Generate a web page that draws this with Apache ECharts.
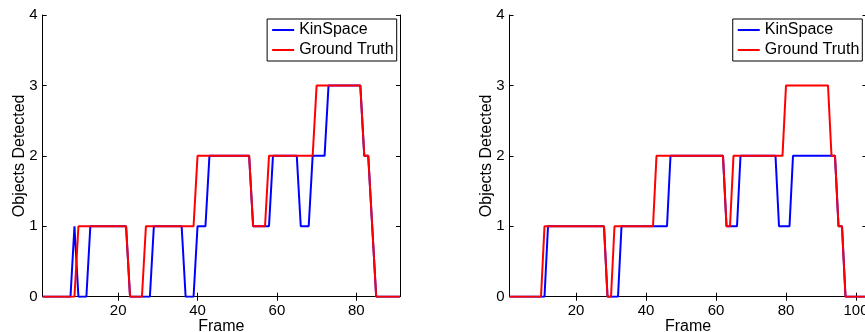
<!DOCTYPE html>
<html><head><meta charset="utf-8">
<script src="https://cdn.jsdelivr.net/npm/echarts@6/dist/echarts.min.js"></script>
<style>html,body{margin:0;padding:0;background:#fff}#c{width:865px;height:332px}</style>
</head><body><div id="c"></div>
<script>
const seriesNames = ['KinSpace', 'Ground Truth'];
const yTicks = [0, 1, 2, 3, 4];
const leftXTicks = [20, 40, 60, 80];
const rightXTicks = [20, 40, 60, 80, 100];
const leftFrameRange = [1, 91];
const rightFrameRange = [1, 103];

// Left plot, frames 1..91
const leftKinSpace = [
  0,0,0,0,0,0,0,0,1,0, 0,0,1,1,1,1,1,1,1,1, 1,1,0,0,0,0,0,0,1,1,
  1,1,1,1,1,1,0,0,0,1, 1,1,2,2,2,2,2,2,2,2, 2,2,2,1,1,1,1,1,2,2,
  2,2,2,2,2,1,1,1,2,2, 2,2,3,3,3,3,3,3,3,3, 3,2,2,1,0,0,0,0,0,0,
  0
];
const leftGroundTruth = [
  0,0,0,0,0,0,0,0,0,1, 1,1,1,1,1,1,1,1,1,1, 1,1,0,0,0,0,1,1,1,1,
  1,1,1,1,1,1,1,1,1,2, 2,2,2,2,2,2,2,2,2,2, 2,2,2,1,1,1,1,2,2,2,
  2,2,2,2,2,2,2,2,2,3, 3,3,3,3,3,3,3,3,3,3, 3,2,2,1,0,0,0,0,0,0,
  0
];
// Right plot, frames 1..103
const rightKinSpace = [
  0,0,0,0,0,0,0,0,0,0, 0,1,1,1,1,1,1,1,1,1, 1,1,1,1,1,1,1,1,0,0,
  0,0,1,1,1,1,1,1,1,1, 1,1,1,1,1,1,2,2,2,2, 2,2,2,2,2,2,2,2,2,2,
  2,2,1,1,1,1,2,2,2,2, 2,2,2,2,2,2,2,1,1,1, 1,2,2,2,2,2,2,2,2,2,
  2,2,2,2,1,1,0,0,0,0, 0,0,0
];
const rightGroundTruth = [
  0,0,0,0,0,0,0,0,0,0, 1,1,1,1,1,1,1,1,1,1, 1,1,1,1,1,1,1,1,0,0,
  1,1,1,1,1,1,1,1,1,1, 1,1,2,2,2,2,2,2,2,2, 2,2,2,2,2,2,2,2,2,2,
  2,2,1,1,2,2,2,2,2,2, 2,2,2,2,2,2,2,2,2,3, 3,3,3,3,3,3,3,3,3,3,
  3,3,2,2,1,1,0,0,0,0, 0,0,0
];

const FONT = 'Liberation Sans';
const toPts = arr => arr.map((v, i) => [i + 1, v]);

function xAxes(gridIndex, range, ticks) {
  const base = {
    type: 'value', gridIndex, min: range[0], max: range[1],
    splitLine: { show: false },
    axisLine: { show: true, lineStyle: { color: '#000', width: 1 } },
    axisTick: { show: true, inside: true, length: 4, lineStyle: { color: '#000' }, customValues: ticks },
  };
  return [
    Object.assign({}, base, {
      position: 'bottom',
      axisLabel: { show: true, customValues: ticks, color: '#000', fontFamily: FONT, fontSize: 15, margin: 7 },
      name: 'Frame', nameLocation: 'middle', nameGap: 22, nameMoveOverlap: false,
      nameTextStyle: { color: '#000', fontFamily: FONT, fontSize: 16 }
    }),
    Object.assign({}, base, { position: 'top', axisLabel: { show: false } })
  ];
}
function yAxes(gridIndex) {
  const base = {
    type: 'value', gridIndex, min: yTicks[0], max: yTicks[yTicks.length - 1], interval: 1,
    splitLine: { show: false },
    axisLine: { show: true, lineStyle: { color: '#000', width: 1 } },
    axisTick: { show: true, inside: true, length: 4, lineStyle: { color: '#000' } },
  };
  return [
    Object.assign({}, base, {
      position: 'left',
      axisLabel: { show: true, color: '#000', fontFamily: FONT, fontSize: 15, margin: 5 },
      name: 'Objects Detected', nameLocation: 'middle', nameGap: 15, nameMoveOverlap: false,
      nameTextStyle: { color: '#000', fontFamily: FONT, fontSize: 16 }
    }),
    Object.assign({}, base, { position: 'right', axisLabel: { show: false } })
  ];
}
function lineSeries(name, data, color, xi, yi) {
  return {
    type: 'line', name, data: toPts(data), xAxisIndex: xi, yAxisIndex: yi,
    showSymbol: false, symbol: 'none', smooth: false, animation: false,
    lineStyle: { color, width: 2 }, itemStyle: { color }
  };
}
function legend(right) {
  return {
    data: seriesNames, orient: 'vertical', right, top: 19,
    icon: 'rect', itemWidth: 22, itemHeight: 2, itemGap: 0,
    padding: [1, 3, 1, 5], borderColor: '#000', borderWidth: 1, backgroundColor: '#fff',
    textStyle: { color: '#000', fontFamily: FONT, fontSize: 16, lineHeight: 20 },
    selectedMode: false
  };
}

const chart = echarts.init(document.getElementById('c'), null, { renderer: 'canvas' });
chart.setOption({
  animation: false,
  backgroundColor: '#fff',
  grid: [
    { left: 42.7, top: 15, width: 357.3, height: 281.7, outerBoundsMode: 'none', containLabel: false },
    { left: 509.5, top: 15, width: 357, height: 281.7, outerBoundsMode: 'none', containLabel: false }
  ],
  xAxis: [...xAxes(0, leftFrameRange, leftXTicks), ...xAxes(1, rightFrameRange, rightXTicks)],
  yAxis: [...yAxes(0), ...yAxes(1)],
  legend: [legend(865 - 396.7), legend(865 - 862.3)],
  series: [
    lineSeries(seriesNames[0], leftKinSpace, '#0000ff', 0, 0),
    lineSeries(seriesNames[1], leftGroundTruth, '#ff0000', 0, 0),
    lineSeries(seriesNames[0], rightKinSpace, '#0000ff', 2, 2),
    lineSeries(seriesNames[1], rightGroundTruth, '#ff0000', 2, 2)
  ]
});
</script></body></html>
